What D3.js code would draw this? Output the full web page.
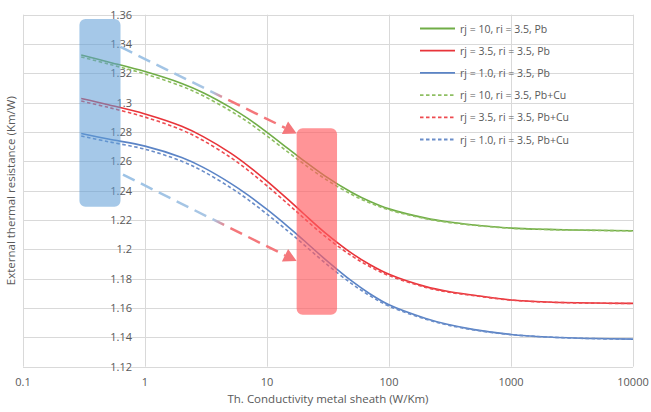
<!DOCTYPE html>
<html>
<head>
<meta charset="utf-8">
<script src="https://cdn.jsdelivr.net/npm/d3@7"></script>
<style>
  body { margin: 0; background: #fff; }
  text { font-family: "Open Sans", "Noto Sans", sans-serif; fill: #595959; }
</style>
</head>
<body>
<div id="chart"></div>
<script>
// conductivity of metal sheath (W/Km)
const conductivity = [0.3, 0.5, 1, 2, 3, 5, 7, 10, 15, 20, 30, 50, 70, 100, 200, 300, 500, 1000, 2000, 5000, 10000];

// external thermal resistance (Km/W)
const rj10Pb    = [1.3325, 1.3278, 1.3212, 1.3131, 1.3068, 1.2968, 1.2891, 1.2798, 1.2685, 1.2605, 1.2499, 1.2386, 1.2326, 1.2276, 1.2213, 1.2188, 1.2166, 1.2145, 1.2136, 1.2130, 1.2127];
const rj35Pb    = [1.3028, 1.2986, 1.2923, 1.2839, 1.2769, 1.2658, 1.2570, 1.2465, 1.2337, 1.2243, 1.2113, 1.1971, 1.1895, 1.1830, 1.1746, 1.1714, 1.1687, 1.1655, 1.1641, 1.1634, 1.1632];
const rj10aPb   = [1.2790, 1.2752, 1.2704, 1.2626, 1.2559, 1.2452, 1.2370, 1.2272, 1.2152, 1.2062, 1.1932, 1.1781, 1.1696, 1.1622, 1.1529, 1.1489, 1.1453, 1.1420, 1.1403, 1.1392, 1.1388];
const rj10PbCu  = [1.3312, 1.3264, 1.3196, 1.3112, 1.3047, 1.2945, 1.2867, 1.2773, 1.2661, 1.2583, 1.2480, 1.2372, 1.2316, 1.2269, 1.2209, 1.2185, 1.2164, 1.2144, 1.2135, 1.2129, 1.2126];
const rj35PbCu  = [1.3011, 1.2968, 1.2902, 1.2814, 1.2742, 1.2628, 1.2539, 1.2433, 1.2306, 1.2214, 1.2088, 1.1953, 1.1882, 1.1821, 1.1741, 1.1710, 1.1684, 1.1654, 1.1640, 1.1633, 1.1631];
const rj10aPbCu = [1.2773, 1.2734, 1.2683, 1.2601, 1.2532, 1.2422, 1.2339, 1.2240, 1.2121, 1.2033, 1.1907, 1.1763, 1.1683, 1.1613, 1.1524, 1.1485, 1.1450, 1.1419, 1.1402, 1.1391, 1.1387];

const seriesNames = [
  "rj = 10, ri = 3.5, Pb",
  "rj = 3.5, ri = 3.5, Pb",
  "rj = 1.0, ri = 3.5, Pb",
  "rj = 10, ri = 3.5, Pb+Cu",
  "rj = 3.5, ri = 3.5, Pb+Cu",
  "rj = 1.0, ri = 3.5, Pb+Cu"
];
const seriesValues = [rj10Pb, rj35Pb, rj10aPb, rj10PbCu, rj35PbCu, rj10aPbCu];
const seriesColors = ["#70ad47", "#e8343a", "#5b84c6", "#8fbf63", "#ee4b50", "#6a8dc9"];
const seriesDashed = [false, false, false, true, true, true];

const xTicks = [0.1, 1, 10, 100, 1000, 10000];
const yTicks = d3.range(1.12, 1.3601, 0.02);

// annotation boxes and arrows, in data units
const highlightBoxes = [
  {x0: 0.29, x1: 0.63, y0: 1.229, y1: 1.357, fill: "#5b9bd5", opacity: 0.55},
  {x0: 17.5, x1: 37.5, y0: 1.1555, y1: 1.2825, fill: "#ff5a60", opacity: 0.65}
];
const trendArrows = [
  {from: [0.63, 1.3380], to: [17.5, 1.2790]},
  {from: [0.66, 1.2510], to: [17.5, 1.1920]}
];

const width = 651, height = 412;
const margin = {top: 14.7, right: 18, bottom: 45.3, left: 23};

const x = d3.scaleLog().domain([0.1, 10000]).range([margin.left, width - margin.right]);
const y = d3.scaleLinear().domain([1.12, 1.36]).range([height - margin.bottom, margin.top]);

const svg = d3.select("#chart").append("svg")
    .attr("width", width)
    .attr("height", height);

// gridlines
svg.append("g")
    .attr("stroke", "#d9d9d9")
    .attr("stroke-width", 1)
  .selectAll("line.h")
  .data(yTicks)
  .join("line")
    .attr("x1", x(0.1))
    .attr("x2", x(10000))
    .attr("y1", d => Math.round(y(d)) + 0.5)
    .attr("y2", d => Math.round(y(d)) + 0.5);

svg.append("g")
    .attr("stroke", "#d9d9d9")
    .attr("stroke-width", 1)
  .selectAll("line.v")
  .data(xTicks)
  .join("line")
    .attr("x1", d => Math.round(x(d)) + 0.5)
    .attr("x2", d => Math.round(x(d)) + 0.5)
    .attr("y1", y(1.36))
    .attr("y2", y(1.12));

// x tick labels
svg.append("g")
  .selectAll("text")
  .data(xTicks)
  .join("text")
    .attr("x", d => x(d))
    .attr("y", y(1.12) + 19)
    .attr("text-anchor", "middle")
    .attr("font-size", 11)
    .text(d => d);

// y tick labels sit next to the x = 1 axis
svg.append("g")
  .selectAll("text")
  .data(yTicks)
  .join("text")
    .attr("x", x(1) - 13)
    .attr("y", d => y(d) + 4)
    .attr("text-anchor", "end")
    .attr("font-size", 11)
    .text(d => +d.toFixed(2));

// axis titles
svg.append("text")
    .attr("x", (x(0.1) + x(10000)) / 2)
    .attr("y", 403)
    .attr("text-anchor", "middle")
    .attr("font-size", 11.5)
    .text("Th. Conductivity metal sheath (W/Km)");

svg.append("text")
    .attr("transform", `translate(15,${(y(1.12) + y(1.36)) / 2}) rotate(-90)`)
    .attr("text-anchor", "middle")
    .attr("font-size", 11.5)
    .text("External thermal resistance (Km/W)");

// series lines
const line = d3.line()
    .x((d, i) => x(conductivity[i]))
    .y(d => y(d))
    .curve(d3.curveCatmullRom.alpha(0.5));

svg.append("g")
    .attr("fill", "none")
  .selectAll("path")
  .data(seriesValues)
  .join("path")
    .attr("stroke", (d, i) => seriesColors[i])
    .attr("stroke-width", 1.6)
    .attr("stroke-dasharray", (d, i) => seriesDashed[i] ? "3.5,2.5" : null)
    .attr("d", line);

// highlight boxes
svg.append("g")
  .selectAll("rect")
  .data(highlightBoxes)
  .join("rect")
    .attr("x", d => x(d.x0))
    .attr("y", d => y(d.y1))
    .attr("width", d => x(d.x1) - x(d.x0))
    .attr("height", d => y(d.y0) - y(d.y1))
    .attr("rx", 6)
    .attr("fill", d => d.fill)
    .attr("fill-opacity", d => d.opacity);

// dashed trend arrows, blue fading into red
const defs = svg.append("defs");
trendArrows.forEach((a, i) => {
  const [x1, y1] = [x(a.from[0]), y(a.from[1])];
  const [x2, y2] = [x(a.to[0]), y(a.to[1])];
  const grad = defs.append("linearGradient")
      .attr("id", "arrowGrad" + i)
      .attr("gradientUnits", "userSpaceOnUse")
      .attr("x1", x1).attr("y1", y1)
      .attr("x2", x2).attr("y2", y2);
  grad.append("stop").attr("offset", 0).attr("stop-color", "#9dc3e6");
  grad.append("stop").attr("offset", 0.52).attr("stop-color", "#a9c6e4");
  grad.append("stop").attr("offset", 0.6).attr("stop-color", "#f4777b");
  grad.append("stop").attr("offset", 1).attr("stop-color", "#f4777b");

  const ang = Math.atan2(y2 - y1, x2 - x1);
  const headLen = 13, headW = 7;
  const bx = x2 - headLen * Math.cos(ang), by = y2 - headLen * Math.sin(ang);

  svg.append("line")
      .attr("x1", x1).attr("y1", y1)
      .attr("x2", bx).attr("y2", by)
      .attr("stroke", `url(#arrowGrad${i})`)
      .attr("stroke-width", 2.5)
      .attr("stroke-dasharray", "13,7");

  svg.append("path")
      .attr("fill", "#f4777b")
      .attr("d", d3.line()([
        [x2, y2],
        [bx + headW * Math.sin(ang), by - headW * Math.cos(ang)],
        [bx - headW * Math.sin(ang), by + headW * Math.cos(ang)]
      ]) + "Z");
});

// legend
const legend = svg.append("g")
  .selectAll("g")
  .data(seriesNames)
  .join("g")
    .attr("transform", (d, i) => `translate(420,${28.5 + i * 22.2})`);

legend.append("line")
    .attr("x1", 0).attr("x2", 35)
    .attr("stroke", (d, i) => seriesColors[i])
    .attr("stroke-width", 1.8)
    .attr("stroke-dasharray", (d, i) => seriesDashed[i] ? "3.5,2.5" : null);

legend.append("text")
    .attr("x", 40)
    .attr("y", 4)
    .attr("font-size", 10.5)
    .text(d => d);
</script>
</body>
</html>
